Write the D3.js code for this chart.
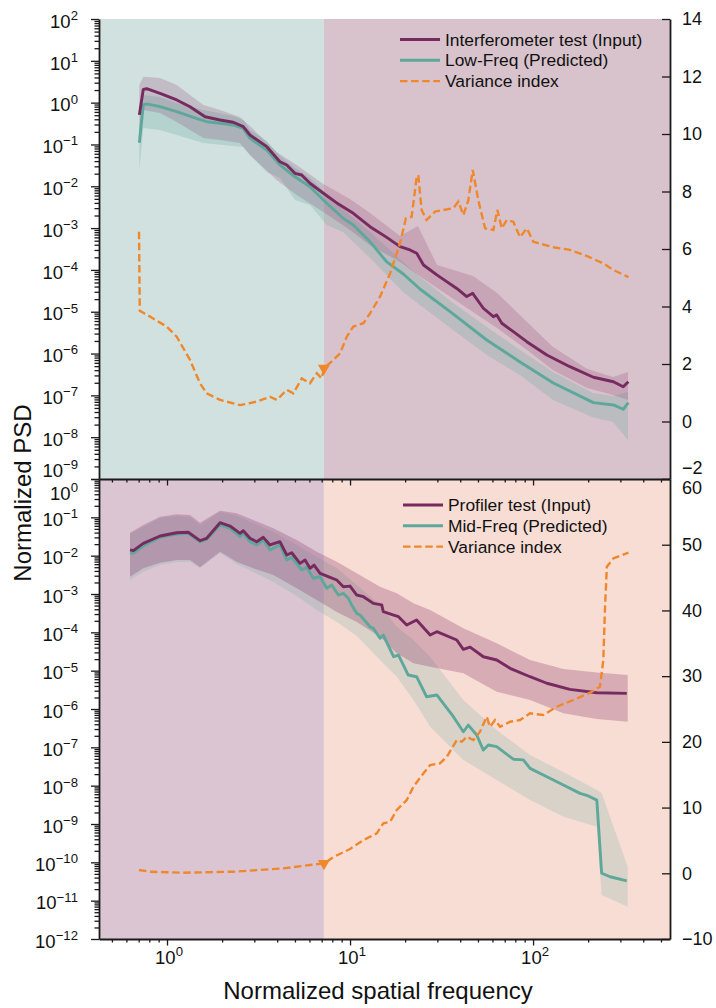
<!DOCTYPE html>
<html>
<head>
<meta charset="utf-8">
<script src="https://cdn.jsdelivr.net/npm/d3@7"></script>
<style>
  body { margin: 0; background: #ffffff; }
  svg { display: block; }
  text { font-family: "Liberation Sans", Arial, Helvetica, sans-serif; fill: #111; }
</style>
</head>
<body>
<svg id="chart" width="716" height="1008"></svg>
<script>
// ---------- data ----------
// spatial frequency where the two regimes meet
const splitFreq = 7.2;
const freqDomain = [0.425, 560];

// Top panel: interferometer input vs low-frequency prediction  [freq, PSD]
const interfInput = [[0.706,0.51],[0.742,2.08],[0.774,2.15],[0.916,1.67],[1.13,1.16],[1.336,0.80],[1.613,0.46],[1.949,0.385],[2.30,0.339],[2.61,0.266],[2.84,0.168],[3.51,0.0885],[4.14,0.0387],[4.51,0.0323],[5.0,0.0204],[5.44,0.0186],[6.04,0.0118],[7.15,0.0068],[8.46,0.0040],[10.42,0.00226],[12.86,0.00108],[15.87,6.0e-4],[18.76,3.6e-4],[21.27,3.0e-4],[23.14,2.5e-4],[25.2,1.31e-4],[29.8,7.6e-5],[38.3,3.6e-5],[43.4,2.3e-5],[46.8,2.76e-5],[53.5,1.21e-5],[60.7,7.6e-6],[63.3,8.4e-6],[67.5,5.3e-6],[78.0,3.33e-6],[92.4,1.92e-6],[118.9,9.2e-7],[159,4.85e-7],[213.6,2.71e-7],[274.8,2.12e-7],[311,1.61e-7],[331.6,2.12e-7]];
const lowFreqPred = [[0.706,0.110],[0.742,0.879],[0.774,0.93],[0.916,0.80],[1.13,0.607],[1.392,0.446],[1.648,0.35],[1.949,0.321],[2.30,0.292],[2.61,0.243],[2.84,0.140],[3.51,0.0738],[4.14,0.0323],[5.0,0.0169],[6.04,0.00977],[7.46,0.00392],[9.19,0.00171],[10.42,0.00119],[12.86,4.73e-4],[15.87,1.55e-4],[19.55,8.0e-5],[24.1,3.5e-5],[36.7,8.8e-6],[55.8,2.11e-6],[84.9,6.3e-7],[129,1.98e-7],[213.6,6.7e-8],[274.8,5.9e-8],[311,4.65e-8],[331.6,6.7e-8]];
// spread bands  [freq, low, high]
const interfBand = [[0.706,0.168,2.64],[0.742,0.667,4.17],[0.916,0.565,3.88],[1.13,0.344,2.64],[1.58,0.143,0.879],[1.949,0.128,0.667],[2.50,0.108,0.454],[2.84,0.056,0.277],[3.97,0.0141,0.066],[5.11,0.0062,0.0323],[7.15,0.00243,0.0114],[10.0,9.0e-4,0.00497],[12.86,3.9e-4,0.0023],[18.76,1.55e-4,6.5e-4],[23.5,7.6e-5,1.12e-3],[29.9,3.7e-5,1.31e-4],[47.0,9.9e-6,7.2e-5],[63.6,4.1e-6,2.8e-5],[92.7,1.22e-6,5.7e-6],[128.6,4.0e-7,1.44e-6],[197,1.5e-7,4.3e-7],[273.6,1.02e-7,2.75e-7],[330,7.8e-8,3.6e-7]];
const lowFreqBand = [[0.706,0.0245,0.29],[0.742,0.248,1.52],[0.916,0.222,1.37],[1.13,0.168,0.98],[1.58,0.108,0.667],[2.30,0.0918,0.479],[2.61,0.0869,0.385],[2.84,0.056,0.222],[3.51,0.022,0.121],[4.14,0.0158,0.053],[5.0,0.0047,0.0274],[6.04,0.00357,0.0158],[7.46,0.00119,0.00653],[9.15,8.1e-4,0.00286],[12.86,1.93e-4,8.1e-4],[19.5,2.96e-5,1.55e-4],[24.1,1.45e-5,6.8e-5],[36.6,3.66e-6,1.62e-5],[55.9,9.2e-7,4.3e-6],[84.9,3.07e-7,1.22e-6],[128.6,7.8e-8,3.6e-7],[212,3.0e-8,1.14e-7],[273.6,2.3e-8,9.7e-8],[330,8.6e-9,1.2e-7]];
// variance index on the right-hand axis  [freq, index]
const varianceTop = [[0.703,6.60],[0.71,3.85],[0.742,3.78],[0.807,3.65],[0.996,3.30],[1.13,2.95],[1.336,2.14],[1.514,1.33],[1.648,0.98],[1.949,0.75],[2.506,0.57],[3.09,0.69],[3.65,0.86],[3.98,0.75],[4.51,1.10],[4.90,0.98],[5.45,1.50],[6.04,1.33],[6.58,1.68],[7.0,1.50],[7.21,1.85],[8.11,2.14],[8.82,2.37],[9.60,2.95],[10.42,3.30],[11.83,3.42],[12.86,3.76],[14.58,4.34],[16.55,5.15],[18.76,6.20],[20.2,7.07],[21.7,7.12],[23.14,8.51],[23.6,8.57],[24.6,7.36],[26.2,7.01],[29.1,7.30],[36.7,7.42],[39.1,7.65],[41.6,7.18],[44.3,7.70],[46.8,8.75],[50.2,7.70],[54.7,6.72],[60.7,6.66],[63.8,7.36],[67.5,6.72],[71.8,7.01],[78.0,6.95],[84.9,6.41],[92.4,6.72],[100.4,6.25],[129,6.06],[159,5.97],[196,5.76],[242,5.50],[275,5.27],[332,5.02]];

// Bottom panel: profiler input vs mid-frequency prediction  [freq, PSD]
const profilerInput = [[0.628,0.0141],[0.655,0.0135],[0.742,0.0210],[0.916,0.0326],[1.13,0.0397],[1.307,0.0407],[1.514,0.0246],[1.648,0.0284],[1.949,0.0724],[2.21,0.0594],[2.506,0.0383],[2.61,0.0448],[2.84,0.0284],[3.09,0.0231],[3.36,0.0301],[3.65,0.019],[4.14,0.0231],[4.51,0.0104],[4.80,0.0119],[5.33,0.0063],[5.68,0.0077],[6.04,0.00468],[6.36,0.0057],[6.86,0.00347],[7.78,0.00272],[8.46,0.00232],[9.19,0.00155],[10.0,0.00161],[10.88,9.4e-4],[11.83,8.5e-4],[13.41,5.7e-4],[14.9,5.2e-4],[15.2,3.45e-4],[17.3,2.83e-4],[18.4,2.56e-4],[20.4,1.55e-4],[23.1,2.1e-4],[27.4,8.5e-5],[29.8,1.04e-4],[38.3,6.3e-5],[41.6,3.6e-5],[45.3,4.1e-5],[53.5,2.31e-5],[63.3,1.9e-5],[74.9,1.15e-5],[96.3,6.95e-6],[118.9,4.7e-6],[159,3.26e-6],[223,2.66e-6],[325,2.56e-6]];
const midFreqPred = [[0.628,0.0119],[0.655,0.0115],[0.742,0.0179],[0.916,0.0301],[1.13,0.0367],[1.307,0.0383],[1.514,0.0231],[1.648,0.0267],[1.949,0.063],[2.21,0.0517],[2.506,0.0313],[2.61,0.0383],[2.84,0.0231],[3.09,0.019],[3.36,0.0256],[3.65,0.0141],[4.14,0.019],[4.51,0.0077],[4.80,0.0091],[5.45,0.00423],[5.80,0.00497],[6.30,0.00257],[6.86,0.00282],[7.46,0.00141],[7.94,0.00172],[8.63,9.4e-4],[9.19,1.04e-3],[9.79,7.7e-4],[10.2,5.2e-4],[10.88,3.13e-4],[11.34,2.83e-4],[12.86,1.4e-4],[13.41,1.27e-4],[14.58,7.0e-5],[15.2,8.5e-5],[17.3,2.31e-5],[18.4,2.56e-5],[20.8,7.7e-6],[23.1,6.95e-6],[26.2,2.09e-6],[29.8,2.32e-6],[36.7,6.3e-7],[41.6,2.55e-7],[44.3,3.8e-7],[49.2,2.1e-7],[53.5,8.5e-8],[57.0,1.15e-7],[63.3,1.04e-7],[78.0,4.9e-8],[88.5,4.7e-8],[96.3,2.83e-8],[118.9,1.71e-8],[146.4,1.04e-8],[180.6,6.3e-9],[200.5,5.4e-9],[223,4.2e-9],[237,5.2e-11],[263.6,4.2e-11],[325,3.3e-11]];
const profilerBand = [[0.628,0.00283,0.0397],[0.742,0.00468,0.063],[0.916,0.00655,0.104],[1.13,0.0077,0.12],[1.336,0.0077,0.115],[1.514,0.00497,0.0724],[1.949,0.0127,0.149],[2.40,0.00695,0.127],[2.96,0.00468,0.0851],[3.81,0.00313,0.0517],[5.11,0.00141,0.0256],[6.58,6.97e-4,0.0127],[8.46,3.39e-4,0.00695],[10.88,1.86e-4,0.00347],[14.58,7.7e-5,0.00155],[18.0,2.84e-5,0.00104],[22.2,1.56e-5,5.7e-4],[27.4,1.27e-5,3.82e-4],[41.6,8.5e-6,1.27e-4],[63.3,2.82e-6,5.2e-5],[96.3,1.71e-6,1.9e-5],[146.4,7.7e-7,1.1e-5],[223,5.5e-7,8.9e-6],[329,4.66e-7,7.7e-6]];
const midFreqBand = [[0.628,0.00232,0.0367],[0.742,0.00382,0.056],[0.916,0.0057,0.096],[1.13,0.00684,0.108],[1.336,0.00684,0.102],[1.514,0.00476,0.063],[1.949,0.0117,0.138],[2.40,0.00606,0.108],[2.96,0.00375,0.0711],[3.81,0.00206,0.0414],[5.11,8.9e-4,0.019],[6.58,3.82e-4,0.00923],[8.46,1.86e-4,0.00476],[10.88,8.0e-5,0.00172],[14.58,1.9e-5,5.2e-4],[18.0,6.95e-6,1.4e-4],[22.2,1.71e-6,6.3e-5],[27.4,3.45e-7,2.31e-5],[41.6,4.7e-8,1.71e-6],[63.3,1.4e-8,2.83e-7],[96.3,4.2e-9,6.3e-8],[146.4,1.55e-9,2.27e-8],[223,8.5e-10,7.7e-9],[237,1.4e-11,6.4e-9],[329,6.9e-12,7.7e-11]];
const varianceBottom = [[0.703,0.50],[0.807,0.24],[1.228,0.09],[2.303,0.24],[4.32,0.75],[6.04,1.26],[7.21,1.51],[8.11,2.47],[10.0,3.69],[11.83,5.06],[14.0,6.08],[15.2,7.60],[16.55,7.85],[18.0,9.63],[20.4,11.15],[22.2,13.17],[25.2,15.21],[27.4,16.48],[31.0,16.73],[33.8,17.74],[38.3,20.28],[40.8,20.02],[43.4,20.78],[47.2,20.28],[51.3,21.54],[55.8,23.83],[58.2,22.30],[62.0,23.32],[66.0,22.30],[74.9,23.06],[84.9,23.32],[96.3,24.34],[113.8,24.08],[134.6,25.35],[166,26.37],[205,27.48],[232,28.39],[242,32.45],[247,40.06],[253,46.65],[275,47.93],[332,48.78]];

// variance index at the split frequency (top, bottom)
const splitMarkerValues = [1.85, 1.51];

// axis ticks
const topLeftExps = d3.range(-9, 3);
const bottomLeftExps = d3.range(-12, 1);
const topRightTicks = [-2, 0, 2, 4, 6, 8, 10, 12, 14];
const bottomRightTicks = [-10, 0, 10, 20, 30, 40, 50, 60];
const xExps = [0, 1, 2];

const legendTop = ["Interferometer test (Input)", "Low-Freq (Predicted)", "Variance index"];
const legendBottom = ["Profiler test (Input)", "Mid-Freq (Predicted)", "Variance index"];

// ---------- styling ----------
const C = {
  purple: "#772a60",
  teal: "#5ea89b",
  orange: "#f0872a",
  bgTopLeft: "#d1e1df",
  bgTopRight: "#d8c3cc",
  bgBotLeft: "#dcc5d3",
  bgBotRight: "#f8ddd5",
  axis: "#1a1a1a"
};
const LINE_W = 2.9, DASH_W = 2.4, DASH = "7.5,3.6";

// ---------- layout ----------
const L = 99, R = 670, T1 = 19, B1 = 479, T2 = 479, B2 = 939;
const svg = d3.select("#chart");

const x = d3.scaleLog().domain(freqDomain).range([L, R]);
const yTop = d3.scaleLog().domain([1e-9, 1e2]).range([B1, T1]);
const yTopR = d3.scaleLinear().domain([-2, 14]).range([B1, T1]);
const yBot = d3.scaleLog().domain([1e-12, 1]).range([B2, T2]);
const yBotR = d3.scaleLinear().domain([-10, 60]).range([B2, T2]);

function drawPanel(cfg) {
  const g = svg.append("g");
  const y = cfg.y, yr = cfg.yr;
  const [top, bottom] = [y.range()[1], y.range()[0]];
  // regime shading
  g.append("rect").attr("x", L).attr("y", top)
    .attr("width", x(splitFreq) - L).attr("height", bottom - top).attr("fill", cfg.bgLeft);
  g.append("rect").attr("x", x(splitFreq)).attr("y", top)
    .attr("width", R - x(splitFreq)).attr("height", bottom - top).attr("fill", cfg.bgRight);

  const area = d3.area().x(d => x(d[0])).y0(d => y(d[1])).y1(d => y(d[2]));
  const line = d3.line().x(d => x(d[0])).y(d => y(d[1]));
  const lineR = d3.line().x(d => x(d[0])).y(d => yr(d[1]));

  g.append("path").attr("d", area(cfg.predBand)).attr("fill", C.teal).attr("fill-opacity", cfg.tealAlpha);
  g.append("path").attr("d", area(cfg.inputBand)).attr("fill", "#8e3d6c").attr("fill-opacity", cfg.purpleAlpha);

  g.append("path").attr("d", line(cfg.pred)).attr("fill", "none")
    .attr("stroke", C.teal).attr("stroke-width", LINE_W).attr("stroke-linejoin", "round");
  g.append("path").attr("d", line(cfg.input)).attr("fill", "none")
    .attr("stroke", C.purple).attr("stroke-width", LINE_W).attr("stroke-linejoin", "round");

  g.append("path").attr("d", lineR(cfg.variance)).attr("fill", "none")
    .attr("stroke", C.orange).attr("stroke-width", DASH_W).attr("stroke-dasharray", DASH);

  g.append("path")
    .attr("d", d3.symbol(d3.symbolTriangle, 62)())
    .attr("transform", `translate(${x(splitFreq)},${yr(cfg.marker)}) rotate(180)`)
    .attr("fill", C.orange);

  // legend
  const lg = g.append("g").attr("transform", `translate(${cfg.legendX},${cfg.legendY})`);
  const styles = [
    { c: C.purple, dash: null, w: LINE_W },
    { c: C.teal, dash: null, w: LINE_W },
    { c: C.orange, dash: DASH, w: DASH_W }
  ];
  cfg.legend.forEach((label, i) => {
    const row = lg.append("g").attr("transform", `translate(0,${i * 20.8})`);
    row.append("line").attr("x1", 0).attr("x2", 40).attr("y1", 0).attr("y2", 0)
      .attr("stroke", styles[i].c).attr("stroke-width", styles[i].w)
      .attr("stroke-dasharray", styles[i].dash);
    row.append("text").attr("x", 45).attr("y", 6).attr("font-size", 17.4).text(label);
  });
}

drawPanel({
  y: yTop, yr: yTopR, bgLeft: C.bgTopLeft, bgRight: C.bgTopRight,
  input: interfInput, pred: lowFreqPred, inputBand: interfBand, predBand: lowFreqBand,
  variance: varianceTop, marker: splitMarkerValues[0],
  tealAlpha: 0.25, purpleAlpha: 0.22,
  legend: legendTop, legendX: 400, legendY: 39.5
});
drawPanel({
  y: yBot, yr: yBotR, bgLeft: C.bgBotLeft, bgRight: C.bgBotRight,
  input: profilerInput, pred: midFreqPred, inputBand: profilerBand, predBand: midFreqBand,
  variance: varianceBottom, marker: splitMarkerValues[1],
  tealAlpha: 0.2, purpleAlpha: 0.3,
  legend: legendBottom, legendX: 403, legendY: 505
});

// ---------- axes ----------
function styleAxis(sel, domainWidth) {
  sel.selectAll(".tick line").attr("stroke", C.axis).attr("stroke-width", 1.3);
  sel.select(".domain").attr("stroke", C.axis).attr("stroke-width", domainWidth || 1.8);
}
function minorLog(exps) {
  const v = [];
  exps.forEach(e => { for (let m = 2; m <= 9; m++) v.push(m * Math.pow(10, e)); });
  return v;
}
function supLabel(sel, base, exp) {
  sel.text(base);
  sel.append("tspan").attr("dy", -7.8).attr("font-size", 13.2)
    .text(String(exp).replace("-", "\u2212"));
}

// left log axes
[[yTop, topLeftExps, T1, B1, -11], [yBot, bottomLeftExps, T2, B2, 12]].forEach(([y, exps, top, bottom, edgeShift], k) => {
  const minor = minorLog(exps.slice(0, -1)).filter(v => v < y.domain()[1]);
  svg.append("g").attr("transform", `translate(${L},0)`)
    .call(d3.axisLeft(y).tickValues(minor).tickSize(4.5).tickFormat(""))
    .call(s => { styleAxis(s); s.select(".domain").remove(); });
  svg.append("g").attr("transform", `translate(${L},0)`)
    .call(d3.axisLeft(y).tickValues(exps.map(e => Math.pow(10, e))).tickSize(8).tickSizeOuter(0).tickFormat(""))
    .call(s => styleAxis(s));
  exps.forEach(e => {
    let ty = y(Math.pow(10, e));
    // keep the labels at the shared edge from colliding
    if (k === 0 && e === exps[0]) ty += edgeShift;
    if (k === 1 && e === exps[exps.length - 1]) ty += edgeShift;
    svg.append("text").attr("x", 78).attr("y", ty + 8.7).attr("text-anchor", "end")
      .attr("font-size", 18.5).call(s => supLabel(s, "10", e));
  });
});

// right linear axes (ticks point inward)
[[yTopR, topRightTicks, -2, -11], [yBotR, bottomRightTicks, 60, 9]].forEach(([yr, ticks, edgeVal, shift]) => {
  svg.append("g").attr("transform", `translate(${R},0)`)
    .call(d3.axisRight(yr).tickValues(ticks).tickSizeInner(-8).tickSizeOuter(0).tickPadding(12))
    .call(s => {
      styleAxis(s);
      s.selectAll(".tick text").attr("font-size", 18).attr("fill", "#111")
        .attr("font-family", '"Liberation Sans", Arial, sans-serif')
        .attr("y", d => d === edgeVal ? shift : 0);
    });
});

// x axes: shared edge (no labels) and bottom edge
const xMinor = minorLog([-1, 0, 1, 2]).filter(v => v > freqDomain[0] && v < freqDomain[1]);
const xMajor = xExps.map(e => Math.pow(10, e));
[B1, B2].forEach(yPos => {
  svg.append("g").attr("transform", `translate(0,${yPos})`)
    .call(d3.axisBottom(x).tickValues(xMinor).tickSize(3.5).tickFormat(""))
    .call(s => { styleAxis(s); s.select(".domain").remove(); });
  svg.append("g").attr("transform", `translate(0,${yPos})`)
    .call(d3.axisBottom(x).tickValues(xMajor).tickSize(6.5).tickSizeOuter(0).tickFormat(""))
    .call(s => styleAxis(s));
});
xExps.forEach(e => {
  svg.append("text").attr("x", x(Math.pow(10, e)) + 2).attr("y", 964).attr("text-anchor", "middle")
    .attr("font-size", 18.5).call(s => supLabel(s, "10", e));
});

// axis titles
svg.append("text").attr("x", 378).attr("y", 999).attr("text-anchor", "middle")
  .attr("font-size", 24).text("Normalized spatial frequency");
svg.append("text").attr("transform", "translate(31,493) rotate(-90)").attr("text-anchor", "middle")
  .attr("font-size", 24).text("Normalized PSD");
</script>
</body>
</html>
